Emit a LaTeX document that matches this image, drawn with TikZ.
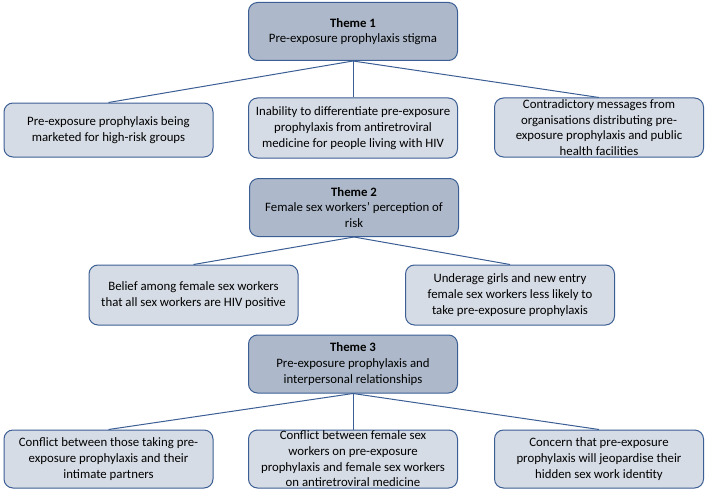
\documentclass[tikz,border=0pt]{standalone}
\usepackage{fontspec}
\setmainfont{Carlito}
\usepackage{xcolor}
\usepackage{tikz}
\definecolor{edge}{HTML}{3B5E95}
\definecolor{themefill}{HTML}{ADB9CA}
\definecolor{leaffill}{HTML}{D6DCE5}
\tikzset{
  theme/.style={draw=edge, fill=themefill, rounded corners=9pt, line width=1pt,
    minimum width=209pt, minimum height=58pt, inner sep=0pt, align=center,
    font=\fontsize{12.8}{15.7}\selectfont},
  leaf/.style={theme, fill=leaffill},
  link/.style={draw=edge, line width=1pt}
}

\begin{document}
\begin{tikzpicture}[x=1pt, y=-1pt]
  \useasboundingbox (0,0) rectangle (708,492);

  % theme 1
  \node[theme] (t1) at (353,31.5) {\textbf{Theme 1}\\Pre-exposure prophylaxis stigma};
  \node[leaf, minimum height=54pt] (a1) at (108.5,130) {Pre-exposure prophylaxis being\\marketed for high-risk groups};
  \node[leaf, minimum height=60pt] (a2) at (353,128) {Inability to differentiate pre-exposure\\prophylaxis from antiretroviral\\medicine for people living with HIV};
  \node[leaf, minimum height=59pt] (a3) at (599,127.5) {Contradictory messages from\\organisations distributing pre-\\exposure prophylaxis and public\\health facilities};

  \draw[link] (t1.south) -- (a1.north);
  \draw[link] (t1.south) -- (a2.north);
  \draw[link] (t1.south) -- (a3.north);

  % theme 2
  \node[theme] (t2) at (354,207.5) {\textbf{Theme 2}\\Female sex workers’ perception of\\risk};
  \node[leaf, minimum height=60pt] (b1) at (193.5,295) {Belief among female sex workers\\that all sex workers are HIV positive};
  \node[leaf, minimum height=60pt] (b2) at (510,295) {Underage girls and new entry\\female sex workers less likely to\\take pre-exposure prophylaxis};

  \draw[link] (t2.south) -- (b1.north);
  \draw[link] (t2.south) -- (b2.north);

  % theme 3
  \node[theme] (t3) at (353,364) {\textbf{Theme 3}\\Pre-exposure prophylaxis and\\interpersonal relationships};
  \node[leaf] (c1) at (108.5,459) {Conflict between those taking pre-\\exposure prophylaxis and their\\intimate partners};
  \node[leaf] (c2) at (353,459) {Conflict between female sex\\workers on pre-exposure\\prophylaxis and female sex workers\\on antiretroviral medicine};
  \node[leaf] (c3) at (599,459) {Concern that pre-exposure\\prophylaxis will jeopardise their\\hidden sex work identity};

  \draw[link] (t3.south) -- (c1.north);
  \draw[link] (t3.south) -- (c2.north);
  \draw[link] (t3.south) -- (c3.north);
\end{tikzpicture}
\end{document}
